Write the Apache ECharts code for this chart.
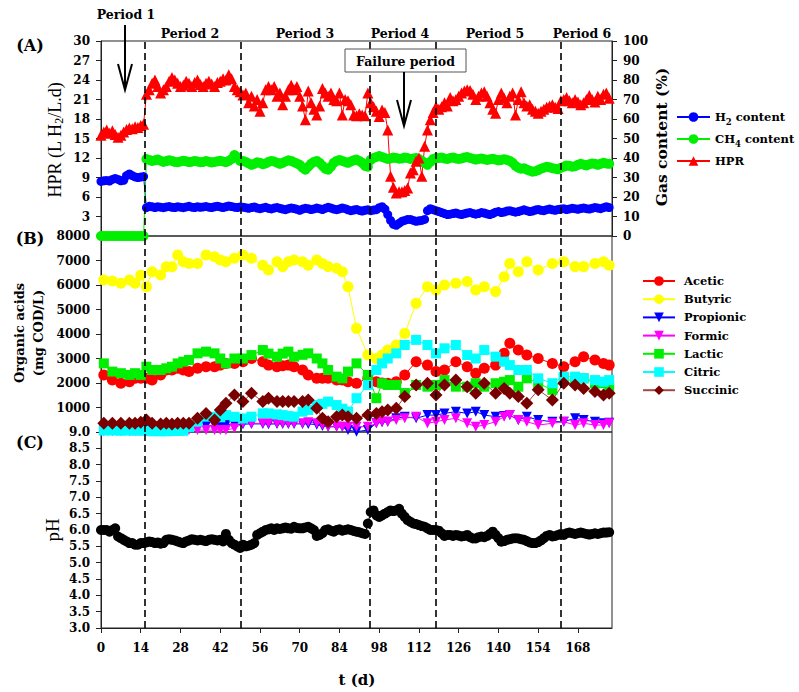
<!DOCTYPE html>
<html><head><meta charset="utf-8">
<script src="https://cdn.jsdelivr.net/npm/echarts@6/dist/echarts.min.js"></script>
<style>html,body{margin:0;padding:0;background:#fff}#c{width:799px;height:692px}</style>
</head><body><div id="c"></div>
<script>
const FONT = "Liberation Serif, serif";
const FONTB = "DejaVu Serif, serif";

// ---------- Panel A (daily, days 0..179) ----------
const dayCount = 180;
const hprValues = [
 15.5,16.0,16.3,15.8,16.2,15.6,15.2,15.5,16.0,16.4,16.6,16.5,16.8,16.7,17.0,17.2,
 21.8,22.5,23.5,24.0,23.0,22.0,22.5,23.0,23.8,24.4,24.0,23.5,23.0,23.2,23.8,23.5,23.0,23.6,24.0,23.3,23.0,23.5,23.8,23.4,23.0,23.6,23.8,24.2,24.0,24.8,24.2,23.0,22.5,22.2,
 21.7,22.0,20.5,21.5,20.0,21.0,19.2,20.5,22.5,23.0,22.5,23.0,21.5,22.0,20.2,21.5,22.5,23.2,22.5,23.0,21.5,20.0,17.9,22.3,20.5,19.5,18.6,20.0,22.7,22.0,21.5,22.0,21.0,20.8,22.0,18.6,21.0,20.8,20.2,18.6,18.5,18.8,18.6,18.5,22.0,
 20.5,19.9,19.2,18.4,19.4,19.0,16.3,9.2,7.5,6.6,6.8,6.8,7.0,7.4,9.7,10.2,11.5,12.0,9.2,13.8,16.3,17.9,19.0,19.9,
 19.5,19.9,20.5,20.0,21.3,20.8,21.0,21.5,22.0,22.3,22.5,22.4,21.8,21.0,21.5,22.0,22.2,21.5,20.5,19.5,18.9,21.0,22.0,21.2,20.5,21.5,22.0,18.6,21.0,22.2,20.5,20.0,20.2,19.5,19.2,18.9,19.2,19.5,19.8,20.0,20.2,19.8,19.6,
 20.8,21.0,21.3,20.8,20.5,21.0,20.6,20.2,20.5,21.0,21.6,21.0,20.6,21.5,21.0,21.8,22.0,21.2
];
const h2Values = [
 28.0,28.3,28.5,28.2,29.0,29.5,29.0,28.3,28.6,31.0,31.8,31.0,30.3,30.0,30.2,30.5,
 14.5,15.2,15.0,14.6,15.0,14.8,14.5,14.9,15.1,14.7,14.6,15.0,14.8,14.5,14.9,15.2,14.8,14.6,15.0,14.7,14.9,15.1,14.8,14.6,15.0,15.3,14.9,14.6,15.0,15.4,15.1,14.8,14.6,14.9,
 14.8,14.5,14.2,14.6,14.9,14.3,14.0,14.4,14.7,14.2,13.9,14.3,14.6,14.2,13.8,13.5,14.0,14.4,14.1,13.7,13.2,13.8,14.2,14.0,13.6,13.9,14.3,14.0,13.6,14.2,14.7,14.3,13.8,13.5,13.9,14.4,14.0,13.4,13.0,13.3,13.6,13.1,12.8,13.2,13.5,
 13.0,13.3,13.5,14.5,15.0,13.8,11.0,8.0,6.0,5.5,6.5,7.5,8.0,8.5,8.5,8.0,7.5,7.8,8.0,8.5,13.0,14.0,13.5,13.0,
 12.5,12.0,11.5,11.0,11.2,11.5,11.8,11.3,11.0,11.4,11.8,12.0,11.6,11.2,11.5,12.0,11.8,11.3,11.0,11.5,12.2,12.5,12.0,12.3,12.8,13.0,12.6,12.2,12.5,13.0,13.4,13.0,12.5,12.8,13.3,13.6,13.2,13.0,13.5,13.8,13.4,13.2,13.6,
 13.8,14.0,13.6,13.9,14.2,14.0,13.7,14.1,14.4,14.0,13.8,14.2,14.6,14.3,14.0,14.5,15.0,14.6
];
const ch4Values = [
 0,0,0,0,0,0,0,0,0,0,0,0,0,0,0,0,
 39.5,39.0,38.5,38.8,39.2,38.6,38.0,38.4,38.9,38.5,38.0,37.8,38.2,38.6,38.3,37.9,38.1,38.5,38.2,37.8,38.0,38.4,38.1,37.7,38.0,38.3,38.6,38.2,37.9,38.5,39.5,41.5,40.5,38.5,
 38.5,38.0,37.2,36.5,37.0,37.8,37.5,36.8,37.2,38.0,38.5,38.2,37.6,37.0,37.5,38.2,38.8,38.5,37.8,37.2,36.5,35.0,34.0,35.5,37.0,38.0,38.5,37.5,36.0,34.5,34.0,35.5,37.5,38.5,39.0,38.5,38.0,37.5,38.2,38.8,39.2,38.5,37.5,36.0,35.5,
 39.0,40.0,40.5,41.0,40.5,40.0,39.5,39.8,40.2,40.0,39.6,39.8,40.2,40.0,39.5,39.8,40.0,39.5,38.5,37.5,36.5,38.0,39.5,40.0,
 40.0,40.2,39.8,39.5,40.0,40.3,39.8,39.5,39.8,40.2,40.5,40.0,39.6,39.2,39.5,39.8,39.4,39.0,39.3,39.6,39.2,38.8,39.0,39.4,39.0,38.5,37.5,36.0,35.0,34.5,34.8,34.0,33.5,33.0,33.2,33.8,34.5,35.0,35.5,35.2,34.8,34.5,34.2,
 35.0,35.5,36.2,36.0,35.5,35.8,36.5,37.0,36.6,36.2,36.8,37.2,37.0,36.5,37.0,37.5,37.2,37.0
];

// ---------- Panel C pH (daily) ----------
const phValues = [
 6.0,6.0,6.0,5.95,6.0,6.05,
 5.8,5.75,5.7,5.65,5.6,5.6,5.55,5.55,5.6,5.6,
 5.62,5.65,5.63,5.6,5.62,5.58,5.6,5.7,5.72,5.7,5.68,5.65,5.62,5.6,5.65,
 5.68,5.72,5.7,5.68,5.7,5.68,5.66,5.7,5.72,5.7,5.68,5.7,5.65,5.88,5.7,5.6,5.55,5.5,
 5.45,5.55,5.5,5.52,5.55,5.6,5.85,5.9,
 5.95,6.0,6.02,6.05,6.0,6.05,6.03,6.05,6.08,6.05,6.04,6.1,6.06,6.05,6.05,6.08,6.1,6.05,6.0,5.82,
 5.85,5.9,6.0,6.02,5.98,5.95,6.0,6.02,5.98,6.0,6.02,6.0,5.97,5.95,5.93,5.9,5.88,
 6.2,6.55,6.6,6.45,6.4,6.45,6.5,6.55,6.6,6.58,6.6,6.65,6.5,6.4,6.3,6.25,6.2,6.18,6.15,6.12,6.1,6.05,6.0,6.0,6.0,
 5.98,5.9,5.82,5.85,5.85,5.82,5.85,5.83,5.8,5.82,5.85,5.78,5.74,5.74,5.78,5.8,5.78,5.82,5.88,5.95,
 5.85,5.75,5.64,5.66,5.7,5.72,5.74,5.75,5.74,5.72,5.7,5.66,5.62,5.6,5.6,5.63,5.68,5.75,5.82,5.85,
 5.8,5.82,5.85,5.88,5.85,5.9,5.92,5.9,5.88,5.9,5.92,5.9,5.88,5.86,5.88,5.9,5.88,5.9,5.92,5.92,5.93
];

// ---------- Panel B (sampling days) ----------
const sampleDays = [1,4,7,10,12,14,16,18,21,23,25,27,29,31,34,37,40,42,44,47,50,53,57,59,62,64,66,68,71,73,76,78,80,83,85,87,90,94,97,99,101,104,107,111,115,118,121,125,129,132,135,139,142,144,147,150,154,159,163,167,170,174,177,179];
const aceticValues = [2325,2120,1990,2055,2190,2190,2190,2120,2330,2530, 2530,2600,2530,2465,2600,2665,2665,2730,2800,2800, 2870,3000,2870,2730,2665,2700,2730,2665,2530,2330, 2190,2190,2190,2120,2120,2050,1990,2190,2055,2000, 1990,2055,2330,2870,2730,2465,2530,2870,2665,2400, 2600,2730,3210,3620,3345,3140,3000,2800,2665,2870, 3075,2940,2800,2730];
const butyricValues = [6200,6160,6070,6200,6070,6400,5930,6540,6410,6745, 6745,7220,6950,6880,6880,7220,7150,7020,6950,7090, 7220,7090,6810,6610,6950,6750,6950,7020,6950,6810, 7020,6880,6750,6680,6540,5930,4230,3140,3000,3140, 3345,3550,4025,5250,5930,5800,6000,6070,6140,5800, 5930,5730,6340,6880,6540,6950,6610,6880,6950,6750, 6750,6880,6950,6810];
const propionicValues = [80,80,80,80,80,80,80,80,80,80, 80,100,120,150,200,250,280,300,300,300, 320,330,330,320,330,330,330,330,330,330, 300,250,215,215,200,80,14,80,355,400, 420,560,625,560,690,690,760,830,760,830, 690,625,650,690,490,625,490,420,420,560, 490,420,355,380];
const formicValues = [30,30,30,30,30,30,30,30,30,30, 30,40,50,80,80,80,80,80,80,150, 355,355,355,355,355,355,355,355,355,400, 355,300,215,215,215,215,215,215,355,420, 420,490,560,625,355,420,490,560,355,215, 285,420,625,690,490,420,285,355,420,285, 355,285,285,355];
const lacticValues = [2800,2465,2400,2330,2400,2330,2665,2530,2530,2600, 2665,2800,2870,2940,3210,3280,3210,3000,2800,3000, 3000,3140,3345,3200,3075,3200,3280,3075,3150,3210, 3000,2800,2530,2260,2190,2465,2800,2330,1380,1990, 1920,1920,1590,1920,1850,1920,2120,1850,1850,1990, 1850,1990,2050,2120,1850,2190,1990,1720,2190,2055, 2190,1990,1990,1850];
const citricValues = [60,60,50,60,60,60,60,30,30,30, 40,40,50,200,420,625,625,600,690,620, 555,625,760,760,720,690,650,625,830,900, 1100,1150,1240,1100,950,830,1380,1920,2530,2800, 3000,3210,3550,3760,3550,3210,3415,3550,3140,3000, 3345,3075,2870,2730,2530,2530,2190,1990,2260,2260, 2190,2120,2055,2120];
const succinicValues = [355,355,355,355,355,400,490,355,330,355, 330,355,355,355,560,760,490,900,1170,1510, 1240,1580,1240,1380,1240,1240,1240,1240,1240,1310, 965,560,420,625,690,625,560,690,760,830, 900,965,1450,1920,1990,1510,1920,2120,1850,1580, 1990,1580,1780,1580,1450,1170,1720,1310,1990,1920, 1780,1650,1510,1580];

// ---------- Axes / annotations ----------
const periodBoundaries = [15.5, 49.3, 94.7, 118, 162];
const periodLabels = ['Period 1','Period 2','Period 3','Period 4','Period 5','Period 6'];
const xTicks = [0,14,28,42,56,70,84,98,112,126,140,154,168];

const dailyDays = Array.from({length: dayCount}, (_, i) => i);
const pairs = (xs, ys) => xs.map((x, i) => [x, ys[i]]);

const chart = echarts.init(document.getElementById('c'), null, {renderer: 'svg'});

const lbl = {fontFamily: FONTB, fontWeight: 'bold', fontSize: 12, color: '#000'};
const axLine = {show: true, lineStyle: {color: '#222', width: 1}};
const tick = {show: true, inside: false, length: 5, lineStyle: {color: '#222'}};
const gridBase = {left: 101, width: 511, show: true, borderColor: '#222', borderWidth: 1, backgroundColor: 'transparent'};

const markLines = {
  silent: true, symbol: ['none', 'none'], label: {show: false},
  lineStyle: {color: '#000', type: [7, 4], width: 1.6},
  emphasis: {disabled: true},
  data: periodBoundaries.map(d => ({xAxis: d}))
};

function lineSeries(name, xi, yi, data, color, symbol, size, extra) {
  return Object.assign({
    name, type: 'line', xAxisIndex: xi, yAxisIndex: yi, data,
    symbol, symbolSize: size, showAllSymbol: true,
    lineStyle: {color, width: 1}, itemStyle: {color},
    emphasis: {disabled: true}, z: 2
  }, extra || {});
}

const rich = {
  s: {fontFamily: FONTB, fontWeight: 'bold', fontSize: 8.5, lineHeight: 9, verticalAlign: 'bottom', color: '#000'}
};
const plain = v => String(v);
const bold = (size) => `bold ${size}px ${FONTB}`;

const option = {
  animation: false,
  backgroundColor: '#fff',
  grid: [
    Object.assign({top: 41, height: 195}, gridBase),
    Object.assign({top: 236, height: 196}, gridBase),
    Object.assign({top: 432, height: 196}, gridBase)
  ],
  xAxis: [0, 1, 2].map(g => ({
    type: 'value', gridIndex: g, min: 0, max: 180, interval: 14,
    splitLine: {show: false},
    axisLine: g === 2 ? axLine : {show: false},
    axisTick: g === 2 ? tick : {show: false},
    axisLabel: g === 2 ? Object.assign({margin: 14, showMaxLabel: false,
      formatter: v => xTicks.includes(v) ? String(v) : ''}, lbl) : {show: false}
  })),
  yAxis: [
    {type: 'value', gridIndex: 0, position: 'left', min: 0, max: 30, interval: 3,
     splitLine: {show: false}, axisLine: axLine, axisTick: tick,
     axisLabel: Object.assign({showMinLabel: false, margin: 11, formatter: plain}, lbl)},
    {type: 'value', gridIndex: 0, position: 'right', min: 0, max: 100, interval: 10,
     splitLine: {show: false}, axisLine: axLine, axisTick: tick,
     axisLabel: Object.assign({margin: 11, formatter: plain}, lbl)},
    {type: 'value', gridIndex: 1, position: 'left', min: 0, max: 8000, interval: 1000,
     splitLine: {show: false}, axisLine: axLine, axisTick: tick,
     axisLabel: Object.assign({showMinLabel: false, margin: 11, formatter: plain}, lbl)},
    {type: 'value', gridIndex: 2, position: 'left', min: 3, max: 9, interval: 0.5,
     splitLine: {show: false}, axisLine: axLine, axisTick: tick,
     axisLabel: Object.assign({margin: 11, formatter: v => v.toFixed(1)}, lbl)}
  ],
  legend: [
    {
      data: ['H2 content', 'CH4 content', 'HPR'],
      orient: 'vertical', left: 676, top: 108, padding: 0, itemWidth: 33, itemHeight: 12, itemGap: 4,
      selectedMode: false,
      textStyle: {fontFamily: FONTB, fontWeight: 'bold', fontSize: 11.5, color: '#000', lineHeight: 18, rich},
      formatter: n => n === 'H2 content' ? 'H{s|2} content' : (n === 'CH4 content' ? 'CH{s|4} content' : n)
    },
    {
      data: ['Acetic', 'Butyric', 'Propionic', 'Formic', 'Lactic', 'Citric', 'Succinic'],
      orient: 'vertical', left: 642, top: 273, padding: 0, itemWidth: 32, itemHeight: 12, itemGap: 2.2,
      selectedMode: false,
      textStyle: {fontFamily: FONTB, fontWeight: 'bold', fontSize: 11.5, color: '#000', lineHeight: 16, padding: [0, 0, 0, 4]}
    }
  ],
  series: [
    lineSeries('H2 content', 0, 1, pairs(dailyDays, h2Values), '#0000ff', 'circle', 9, {markLine: markLines}),
    lineSeries('CH4 content', 0, 1, pairs(dailyDays, ch4Values), '#00ee00', 'circle', 10),
    lineSeries('HPR', 0, 0, pairs(dailyDays, hprValues), '#ff0000', 'triangle', 11),

    lineSeries('Acetic', 1, 2, pairs(sampleDays, aceticValues), '#ff0000', 'circle', 11, {markLine: markLines}),
    lineSeries('Butyric', 1, 2, pairs(sampleDays, butyricValues), '#ffff00', 'circle', 11),
    lineSeries('Propionic', 1, 2, pairs(sampleDays, propionicValues), '#0000ff', 'triangle', 10, {symbolRotate: 180}),
    lineSeries('Formic', 1, 2, pairs(sampleDays, formicValues), '#ff00ff', 'triangle', 10, {symbolRotate: 180}),
    lineSeries('Lactic', 1, 2, pairs(sampleDays, lacticValues), '#00ee00', 'rect', 10),
    lineSeries('Citric', 1, 2, pairs(sampleDays, citricValues), '#00ffff', 'rect', 10),
    lineSeries('Succinic', 1, 2, pairs(sampleDays, succinicValues), '#7a0000', 'diamond', 13, {lineStyle: {color: '#a04848', width: 1}}),

    lineSeries('pH', 2, 3, pairs(dailyDays, phValues), '#000000', 'circle', 10, {markLine: markLines})
  ],
  graphic: [
    {type: 'text', x: 30, y: 45, z: 100, style: {text: '(A)', font: bold(16), fill: '#000', align: 'center', verticalAlign: 'middle'}},
    {type: 'text', x: 30, y: 238, z: 100, style: {text: '(B)', font: bold(16), fill: '#000', align: 'center', verticalAlign: 'middle'}},
    {type: 'text', x: 30, y: 442, z: 100, style: {text: '(C)', font: bold(16), fill: '#000', align: 'center', verticalAlign: 'middle'}},
    {type: 'text', x: 55, y: 140, rotation: Math.PI / 2, z: 100, style: {
      text: 'HPR (L H{s|2}/L.d)', font: `18px ${FONT}`, fill: '#000', align: 'center', verticalAlign: 'middle', lineHeight: 20,
      rich: {s: {fontFamily: FONT, fontSize: 12, lineHeight: 12, verticalAlign: 'bottom', fill: '#000'}}}},
    {type: 'text', x: 661, y: 137, rotation: Math.PI / 2, z: 100, style: {
      text: 'Gas content (%)', font: bold(15.5), fill: '#000', align: 'center', verticalAlign: 'middle'}},
    {type: 'text', x: 19, y: 333, rotation: Math.PI / 2, z: 100, style: {
      text: 'Organic acids', font: bold(13), fill: '#000', align: 'center', verticalAlign: 'middle'}},
    {type: 'text', x: 38, y: 333, rotation: Math.PI / 2, z: 100, style: {
      text: '(mg COD/L)', font: bold(13), fill: '#000', align: 'center', verticalAlign: 'middle'}},
    {type: 'text', x: 52, y: 530, rotation: Math.PI / 2, z: 100, style: {
      text: 'pH', font: `19px ${FONT}`, fill: '#000', align: 'center', verticalAlign: 'middle'}},
    {type: 'text', x: 357, y: 680, z: 100, style: {
      text: 't (d)', font: bold(15), fill: '#000', align: 'center', verticalAlign: 'middle'}},
    {type: 'text', x: 126, y: 14, z: 100, style: {text: periodLabels[0], font: bold(12.5), fill: '#000', align: 'center', verticalAlign: 'middle'}},
    {type: 'text', x: 190, y: 33, z: 100, style: {text: periodLabels[1], font: bold(12.5), fill: '#000', align: 'center', verticalAlign: 'middle'}},
    {type: 'text', x: 305, y: 33, z: 100, style: {text: periodLabels[2], font: bold(12.5), fill: '#000', align: 'center', verticalAlign: 'middle'}},
    {type: 'text', x: 400, y: 33, z: 100, style: {text: periodLabels[3], font: bold(12.5), fill: '#000', align: 'center', verticalAlign: 'middle'}},
    {type: 'text', x: 495, y: 33, z: 100, style: {text: periodLabels[4], font: bold(12.5), fill: '#000', align: 'center', verticalAlign: 'middle'}},
    {type: 'text', x: 582, y: 33, z: 100, style: {text: periodLabels[5], font: bold(12.5), fill: '#000', align: 'center', verticalAlign: 'middle'}},
    {type: 'line', z: 100, shape: {x1: 125, y1: 25, x2: 125, y2: 89}, style: {stroke: '#000', lineWidth: 2}},
    {type: 'polyline', z: 100, shape: {points: [[118, 64], [125, 90], [132, 64]]}, style: {stroke: '#000', lineWidth: 2, fill: null}},
    {type: 'rect', z: 100, shape: {x: 345, y: 49, width: 121, height: 23}, style: {fill: '#fff', stroke: '#555', lineWidth: 1}},
    {type: 'text', x: 405.5, y: 61, z: 101, style: {text: 'Failure period', font: bold(12.5), fill: '#000', align: 'center', verticalAlign: 'middle'}},
    {type: 'line', z: 100, shape: {x1: 404, y1: 72, x2: 404, y2: 125}, style: {stroke: '#000', lineWidth: 2}},
    {type: 'polyline', z: 100, shape: {points: [[397, 100], [404, 126], [411, 100]]}, style: {stroke: '#000', lineWidth: 2, fill: null}}
  ]
};
chart.setOption(option);
</script>
</body></html>
